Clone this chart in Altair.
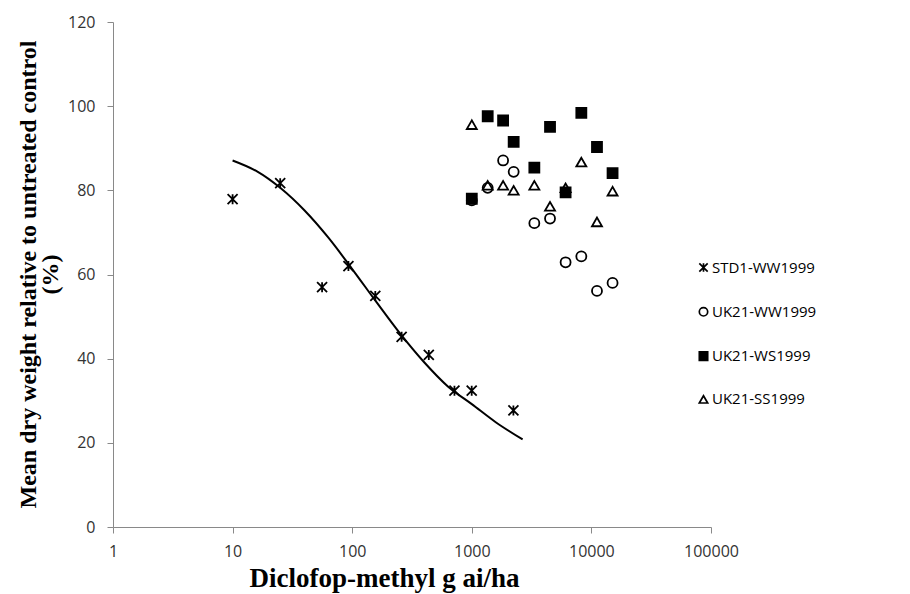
import altair as alt
import pandas as pd

# ---- data ----
std_x = [10, 25, 56, 93, 156, 259, 437, 716, 998, 2228]
std_y = [77.9, 81.7, 57.0, 62.0, 54.9, 45.2, 40.9, 32.4, 32.4, 27.7]

uk_x = [1000, 1358, 1827, 2239, 3334, 4509, 6085, 8238, 11136, 15031]
ww_y = [77.6, 80.6, 87.1, 84.4, 72.2, 73.3, 62.9, 64.3, 56.1, 58.0]
ws_y = [78.0, 97.6, 96.6, 91.5, 85.4, 95.1, 79.5, 98.4, 90.3, 84.1]
ss_y = [95.6, 81.2, 81.2, 80.0, 81.2, 76.2, 80.6, 86.7, 72.5, 79.8]

curve_x = [10, 16, 25, 40, 63, 100, 158, 251, 398, 631, 1000, 1585, 2660]
curve_y = [87.1, 84.5, 80.6, 75.2, 68.8, 61.3, 53.6, 46.0, 39.2, 33.4, 29.2, 24.9, 20.8]

series = ["STD1-WW1999", "UK21-WW1999", "UK21-WS1999", "UK21-SS1999"]
x_ticks = [1, 10, 100, 1000, 10000, 100000]
y_ticks = [0, 20, 40, 60, 80, 100, 120]

rows = []
for x, y in zip(std_x, std_y):
    rows.append({"dose": x, "weight": y, "series": series[0], "ord": 0})
for x, y in zip(uk_x, ww_y):
    rows.append({"dose": x, "weight": y, "series": series[1], "ord": 1})
for x, y in zip(uk_x, ws_y):
    rows.append({"dose": x, "weight": y, "series": series[2], "ord": 2})
for x, y in zip(uk_x, ss_y):
    rows.append({"dose": x, "weight": y, "series": series[3], "ord": 3})
pts = pd.DataFrame(rows)
curve = pd.DataFrame({"dose": curve_x, "weight": curve_y})

asterisk = "M-1,-1L1,1M-1,1L1,-1M0,-1L0,1"

xscale = alt.Scale(type="log", domain=[1, 100000])
yscale = alt.Scale(domain=[0, 120])

xaxis = alt.Axis(
    values=x_ticks, format="d", grid=False,
    title="Diclofop-methyl g ai/ha",
    titleFont="Liberation Serif", titleFontSize=27, titleFontWeight="bold",
    titleColor="black", titleX=271, titleY=59, titleBaseline="alphabetic",
    titleAlign="center",
    labelFont="Open Sans", labelFontSize=16, labelColor="#333333",
    labelPadding=10, tickSize=6, tickColor="#898989", domainColor="#898989",
    labelFlush=False, labelOverlap=False,
)
yaxis = alt.Axis(
    values=y_ticks, grid=False,
    title=["Mean dry weight relative to untreated control", "(%)"],
    titleFont="Liberation Serif", titleFontSize=24, titleFontWeight="bold",
    titleColor="black", titleX=-97, titleY=252, titleAngle=-90,
    titleBaseline="top", titleAlign="center", titleLineHeight=22,
    labelFont="Open Sans", labelFontSize=16, labelColor="#333333",
    labelPadding=12, tickSize=6, tickColor="#898989", domainColor="#898989",
    labelFlush=False, labelOverlap=False,
)

line = alt.Chart(curve).mark_line(
    color="black", strokeWidth=2, interpolate="monotone"
).encode(
    x=alt.X("dose:Q", scale=xscale, axis=xaxis),
    y=alt.Y("weight:Q", scale=yscale, axis=yaxis),
)

legend = alt.Legend(
    title=None, orient="none", legendX=583, legendY=238,
    labelFont="Open Sans", labelFontSize=15, labelColor="black",
    symbolSize=70, symbolStrokeWidth=1.7, symbolStrokeColor="black",
    rowPadding=27.3, labelOffset=1, padding=0,
)

points = alt.Chart(pts).mark_point(
    strokeWidth=1.8, opacity=1, size=100
).encode(
    x=alt.X("dose:Q", scale=xscale),
    y=alt.Y("weight:Q", scale=yscale),
    shape=alt.Shape("series:N", scale=alt.Scale(
        domain=series, range=[asterisk, "circle", "square", "triangle-up"]),
        legend=legend),
    fill=alt.Fill("series:N", scale=alt.Scale(
        domain=series, range=["transparent", "transparent", "black", "transparent"]),
        legend=legend),
    stroke=alt.Stroke("series:N", scale=alt.Scale(
        domain=series, range=["black", "black", "black", "black"]),
        legend=legend),
    order=alt.Order("ord:Q"),
)

chart = alt.layer(line, points).properties(
    width=598, height=505,
    autosize=alt.AutoSizeParams(type="none"),
    padding={"left": 113, "top": 22, "right": 199, "bottom": 67},
    background="white",
).configure_view(stroke=None)

chart.save("out.html", embed_options={"renderer": "svg", "actions": False})
